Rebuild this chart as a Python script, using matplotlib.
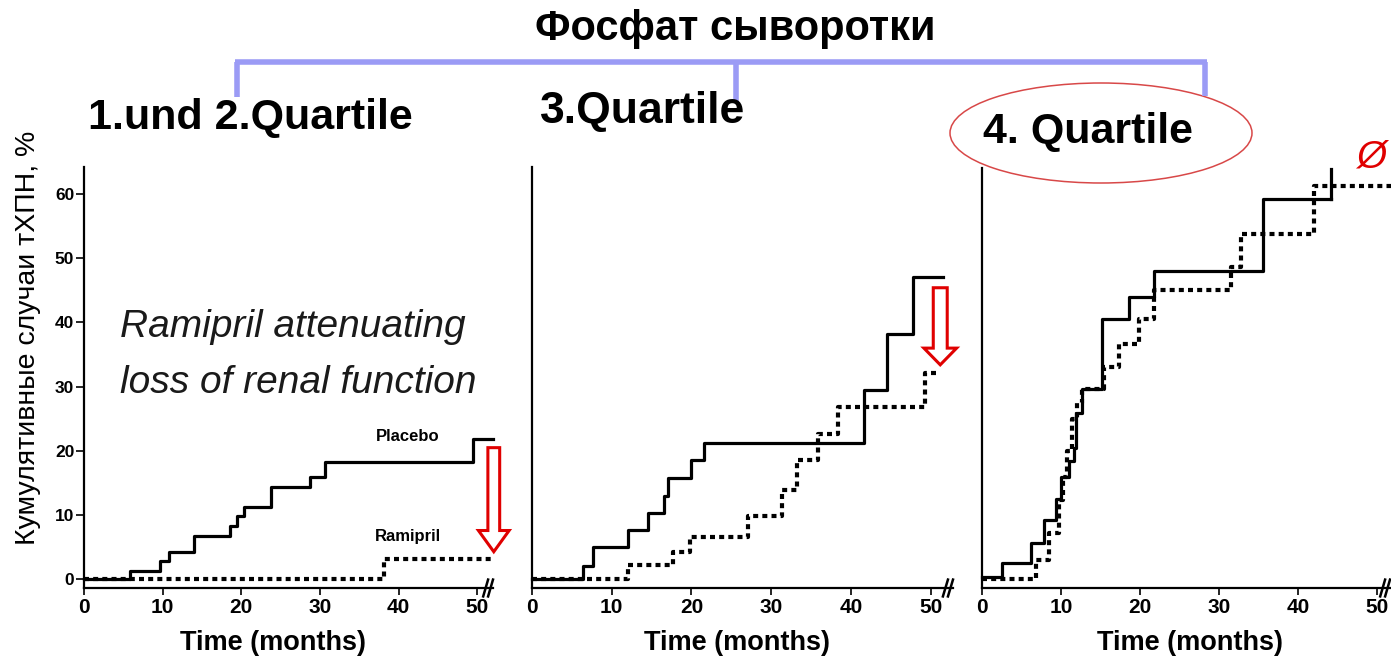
import matplotlib
matplotlib.use("Agg")
import matplotlib.pyplot as plt
from matplotlib.patches import Ellipse, FancyArrow

plt.rcParams['font.family'] = ['Liberation Sans', 'DejaVu Sans']

# cumulative ESRD incidence (%), step times in months
p1_t = [0, 5.9, 9.6, 10.8, 14.0, 18.5, 19.5, 20.4, 23.8, 28.7, 30.6, 49.4, 52.0]
p1_y = [0, 1.3, 2.9, 4.2, 6.8, 8.3, 9.9, 11.2, 14.4, 15.9, 18.3, 21.8, 21.8]
r1_t = [0, 38.2, 52.0]
r1_y = [0, 3.1, 3.1]

p2_t = [0, 6.4, 7.6, 12.0, 14.6, 16.5, 17.0, 20.0, 21.6, 41.6, 44.5, 47.8, 51.6]
p2_y = [0, 2.0, 5.1, 7.7, 10.3, 12.9, 15.7, 18.6, 21.3, 29.5, 38.2, 47.1, 47.1]
r2_t = [0, 12.0, 17.7, 19.8, 27.1, 31.3, 33.2, 35.9, 38.4, 49.3, 51.2]
r2_y = [0, 2.2, 4.3, 6.6, 9.8, 13.9, 18.6, 22.7, 26.9, 32.1, 32.1]

p3_t = [0, 2.5, 6.2, 7.8, 9.3, 10.0, 11.0, 11.6, 11.9, 12.7, 15.2, 18.6, 21.7, 35.6, 44.1]
p3_y = [0.3, 2.5, 5.7, 9.2, 12.5, 16.0, 18.5, 20.5, 26.0, 29.7, 40.7, 44.0, 48.2, 59.3, 59.3]
r3_t = [0, 6.8, 8.5, 9.7, 10.3, 10.8, 11.4, 12.0, 12.6, 15.4, 17.3, 19.9, 21.8, 31.5, 32.7, 42.0, 52.0]
r3_y = [0, 3.0, 7.2, 12.4, 16.0, 20.0, 25.0, 27.5, 29.7, 33.1, 36.8, 40.7, 45.1, 48.7, 53.9, 61.4, 61.4]
p3_censor_top = 64.0

# red "reduction" arrows: x, from, to
arrow1 = (52.1, 20.5, 4.3)
arrow2 = (51.2, 45.4, 33.4)

x_ticks = [0, 10, 20, 30, 40, 50]
y_ticks = [0, 10, 20, 30, 40, 50, 60]
panel_titles = ["1.und 2.Quartile", "3.Quartile", "4. Quartile"]

W, H = 1391, 661
fig = plt.figure(figsize=(W / 100, H / 100), dpi=100)


def px_axes(l, t, r, b):
    return fig.add_axes([l / W, 1 - b / H, (r - l) / W, (b - t) / H])


def setup(ax, xmax, show_y, label_x):
    ax.set_xlim(0, xmax)
    ax.set_ylim(-1.35, 64.2)
    for s in ['top', 'right']:
        ax.spines[s].set_visible(False)
    for s in ['left', 'bottom']:
        ax.spines[s].set_linewidth(1.6)
    ax.set_xticks(x_ticks)
    ax.set_xticklabels([str(v) for v in x_ticks], fontsize=15, fontweight='bold')
    ax.tick_params(axis='x', length=5, width=1.2, pad=2)
    if show_y:
        ax.set_yticks(y_ticks)
        ax.set_yticklabels([str(v) for v in y_ticks], fontsize=12.5, fontweight='bold')
        ax.tick_params(axis='y', length=6, width=1.2, pad=1)
    else:
        ax.set_yticks([])
    ax.set_xlabel("Time (months)", fontsize=19.5, fontweight='bold')
    ax.xaxis.set_label_coords(label_x, -0.1)
    # axis break mark
    for dx in (-0.008, 0.004):
        ax.plot([0.99 + dx - 0.006, 0.99 + dx + 0.006], [-0.02, 0.02],
                transform=ax.transAxes, color='black', lw=1.8, clip_on=False)


def draw(ax, pt, py, rt, ry):
    ax.step(pt, py, where='post', color='black', lw=2.3, clip_on=False)
    ax.step(rt, ry, where='post', color='black', lw=3.0,
            linestyle=(0, (1.2, 1.0)), clip_on=False)


def red_arrow(ax, a, shaft, head_w, head_l):
    x, y0, y1 = a
    ax.add_patch(FancyArrow(x, y0, 0, y1 - y0, width=shaft, head_width=head_w,
                            head_length=head_l, length_includes_head=True,
                            fc='white', ec='#e00000', lw=2.2, clip_on=False))


ax1 = px_axes(84, 167, 493, 588)
setup(ax1, 52.0, True, 0.462)
draw(ax1, p1_t, p1_y, r1_t, r1_y)
red_arrow(ax1, arrow1, 1.5, 3.9, 3.3)
ax1.text(41.1, 22.2, "Placebo", fontsize=12, fontweight='bold', ha='center', va='center')
ax1.text(41.2, 6.6, "Ramipril", fontsize=12, fontweight='bold', ha='center', va='center')
ax1.text(4.6, 39.3, "Ramipril attenuating", fontsize=28, style='italic',
         ha='left', va='center', color='#1a1a1a')
ax1.text(4.6, 30.6, "loss of renal function", fontsize=28, style='italic',
         ha='left', va='center', color='#1a1a1a')

ax2 = px_axes(532, 167, 953, 588)
setup(ax2, 52.8, False, 0.487)
draw(ax2, p2_t, p2_y, r2_t, r2_y)
red_arrow(ax2, arrow2, 1.75, 4.1, 2.6)

ax3 = px_axes(982, 168, 1390, 588)
setup(ax3, 51.6, False, 0.51)
draw(ax3, p3_t, p3_y, r3_t, r3_y)
ax3.plot([p3_t[-1], p3_t[-1]], [p3_y[-1], p3_censor_top], color='black', lw=2.3, clip_on=False)

# overlay in pixel coordinates for titles and bracket
ov = fig.add_axes([0, 0, 1, 1], zorder=10)
ov.set_xlim(0, W)
ov.set_ylim(H, 0)
ov.axis('off')
ov.patch.set_visible(False)

ov.text(735, 29, "Фосфат сыворотки", fontsize=30, fontweight='bold', ha='center', va='center')
bc = '#9b9bf5'
ov.plot([235, 1207], [62, 62], color=bc, lw=4, solid_capstyle='butt')
ov.plot([237, 237], [62, 97], color=bc, lw=4, solid_capstyle='butt')
ov.plot([736, 736], [62, 102], color=bc, lw=4, solid_capstyle='butt')
ov.plot([1205, 1205], [62, 96], color=bc, lw=4, solid_capstyle='butt')

ov.text(88, 118, panel_titles[0], fontsize=31, fontweight='bold', ha='left', va='center')
ov.text(540, 112, panel_titles[1], fontsize=32, fontweight='bold', ha='left', va='center')
ov.text(983, 132, panel_titles[2], fontsize=31, fontweight='bold', ha='left', va='center')
ov.add_patch(Ellipse((1101, 133), 302, 100, fill=False, ec='#d84848', lw=1.1))
ov.text(1386, 157, "Ø", fontsize=28, color='#e00000', ha='right', va='center', style='italic')

ov.text(28, 338, "Кумулятивные случаи тХПН, %", fontsize=20.5, rotation=90,
        ha='center', va='center')

fig.savefig("out.png", dpi=100)
